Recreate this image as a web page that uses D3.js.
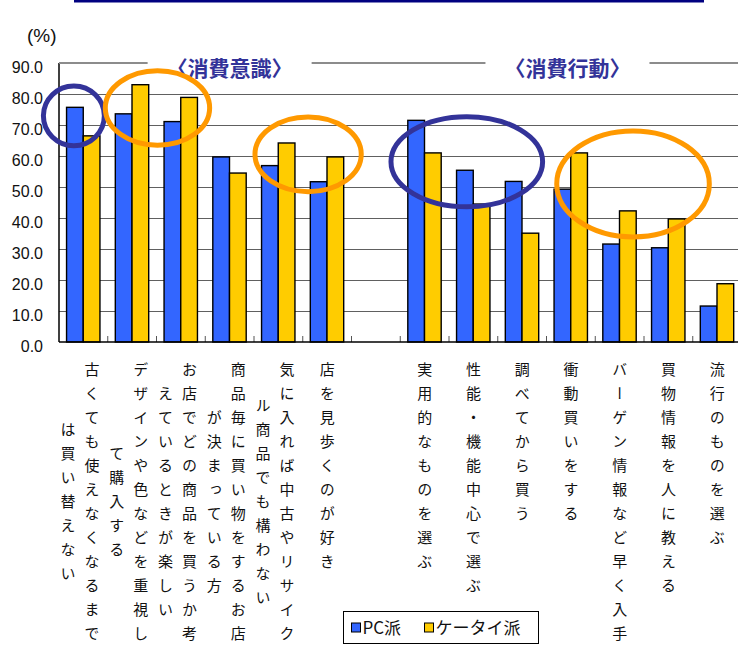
<!DOCTYPE html>
<html>
<head>
<meta charset="utf-8">
<script src="https://cdn.jsdelivr.net/npm/d3@7"></script>
<style>
    body { margin: 0; background: #fff; }
    svg { display: block; }
    text { font-family: "Noto Sans CJK JP", sans-serif; }
    .num { font-family: "Liberation Sans", Arial, sans-serif; }
</style>
</head>
<body>
<svg id="chart" width="738" height="652"></svg>
<script>
    "use strict";

    // category labels, already broken into the columns of the vertical text
    var categories = [
        ["古くても使えなくなるまで", "は買い替えない"],
        ["デザインや色などを重視し", "て購入する"],
        ["お店でどの商品を買うか考", "えているときが楽しい"],
        ["商品毎に買い物をするお店", "が決まっている方"],
        ["気に入れば中古やリサイク", "ル商品でも構わない"],
        ["店を見歩くのが好き"],
        [],
        ["実用的なものを選ぶ"],
        ["性能・機能中心で選ぶ"],
        ["調べてから買う"],
        ["衝動買いをする"],
        ["バーゲン情報など早く入手"],
        ["買物情報を人に教える"],
        ["流行のものを選ぶ"]
    ];
    var pcValues    = [75.7, 73.6, 71.1, 59.7, 56.9, 51.7, null, 71.5, 55.4, 51.8, 49.3, 31.6, 30.4, 11.6];
    var ketaiValues = [66.5, 83.0, 78.9, 54.5, 64.2, 59.7, null, 61.0, 44.5, 35.1, 61.0, 42.3, 39.7, 18.8];
    var seriesNames = ["PC派", "ケータイ派"];
    var yTicks = [0, 10, 20, 30, 40, 50, 60, 70, 80, 90];
    var sectionNames = ["〈消費意識〉", "〈消費行動〉"];
    // hand-drawn rings, in category slots / percent
    var highlights = [
        {x0: -0.32, x1: 0.93, v0: 63.3, v1: 82.6, kind: "pc"},
        {x0: 0.95, x1: 3.09, v0: 63.5, v1: 87.5, kind: "ketai"},
        {x0: 4.02, x1: 6.2, v0: 48.5, v1: 72.6, kind: "ketai"},
        {x0: 6.81, x1: 9.92, v0: 43.6, v1: 72.7, kind: "pc"},
        {x0: 10.21, x1: 13.34, v0: 33.9, v1: 68.1, kind: "ketai"}
    ];

    function drawChart() {
        var COLORS = {pc: "#3366ff", ketai: "#ffcc00"},
            RING = {pc: "#333399", ketai: "#ff9900"};

        var svg = d3.select("#chart");
        var left = 59, right = 741.5, plotTop = 63, bottom = 342;

        var slot = d3.scaleLinear().domain([0, categories.length]).range([left, right]);
        var x = d3.scaleBand().domain(d3.range(categories.length)).range([left, right]);
        var bw = x.bandwidth();
        var inner = d3.scaleBand().domain(["pc", "ketai"]).range([bw * 0.155, bw * 0.84]);
        var y = d3.scaleLinear().domain([0, 90]).range([bottom, plotTop]);

        // navy rule on top
        svg.append("rect").attr("x", 74).attr("y", 0).attr("width", 630).attr("height", 2.5)
            .attr("fill", "#000080");

        // gridlines (the 90 line is drawn later, broken by the titles)
        svg.append("g").selectAll("line").data(yTicks.filter(function (d) { return d > 0 && d < 90; }))
            .enter().append("line")
            .attr("x1", left).attr("x2", 738)
            .attr("y1", function (d) { return Math.round(y(d)) + 0.5; })
            .attr("y2", function (d) { return Math.round(y(d)) + 0.5; })
            .attr("stroke", "#606060").attr("stroke-width", 1);

        // bars
        var rows = categories.map(function (c, i) {
            return {i: i, pc: pcValues[i], ketai: ketaiValues[i]};
        }).filter(function (r) { return r.pc !== null; });

        var groups = svg.append("g").selectAll("g").data(rows).enter().append("g")
            .attr("transform", function (r) { return "translate(" + x(r.i) + ",0)"; });
        groups.selectAll("rect").data(function (r) {
            return [{k: "pc", v: r.pc}, {k: "ketai", v: r.ketai}];
        }).enter().append("rect")
            .attr("x", function (d) { return inner(d.k); })
            .attr("y", function (d) { return y(d.v); })
            .attr("width", inner.bandwidth())
            .attr("height", function (d) { return y(0) - y(d.v); })
            .attr("fill", function (d) { return COLORS[d.k]; })
            .attr("stroke", "#000").attr("stroke-width", 1.4);

        // axes
        var yAxis = d3.axisLeft(y).tickValues(yTicks).tickFormat(d3.format(".1f")).tickSize(0).tickPadding(16);
        var gy = svg.append("g").attr("transform", "translate(" + left + ",0)").call(yAxis);
        gy.select(".domain").remove();
        gy.selectAll("text").attr("class", "num").attr("font-size", 16).attr("fill", "#111").attr("dy", "0.62em");
        svg.append("line").attr("x1", left).attr("x2", left).attr("y1", plotTop).attr("y2", bottom)
            .attr("stroke", "#000").attr("stroke-width", 1.5);

        svg.append("g").selectAll("line").data(d3.range(1, categories.length)).enter().append("line")
            .attr("x1", function (d) { return slot(d); }).attr("x2", function (d) { return slot(d); })
            .attr("y1", bottom).attr("y2", bottom - 6)
            .attr("stroke", "#555").attr("stroke-width", 1);
        svg.append("line").attr("x1", left).attr("x2", 738).attr("y1", bottom).attr("y2", bottom)
            .attr("stroke", "#000").attr("stroke-width", 1.5);

        svg.append("text").attr("class", "num").attr("x", 27).attr("y", 42)
            .attr("font-size", 19).attr("fill", "#111").text("(%)");

        // section titles and the broken 90 line
        var titleAt = [3.5, 10.43], gaps = [];
        sectionNames.forEach(function (name, i) {
            var t = svg.append("text")
                .attr("x", slot(titleAt[i])).attr("y", y(90) + 13)
                .attr("text-anchor", "middle").attr("font-size", 21).attr("font-weight", "bold")
                .attr("fill", "#333399").text(name);
            var w = t.node().getComputedTextLength();
            gaps.push([slot(titleAt[i]) - w / 2 - 19, slot(titleAt[i]) + w / 2 + 19]);
        });
        var segs = [[left, gaps[0][0]], [gaps[0][1], gaps[1][0]], [gaps[1][1], 738]];
        svg.append("g").selectAll("line").data(segs).enter().append("line")
            .attr("x1", function (s) { return s[0]; }).attr("x2", function (s) { return s[1]; })
            .attr("y1", y(90)).attr("y2", y(90))
            .attr("stroke", "#8c8c8c").attr("stroke-width", 2);

        // rings
        svg.append("g").selectAll("ellipse").data(highlights).enter().append("ellipse")
            .attr("cx", function (h) { return (slot(h.x0) + slot(h.x1)) / 2; })
            .attr("cy", function (h) { return (y(h.v0) + y(h.v1)) / 2; })
            .attr("rx", function (h) { return (slot(h.x1) - slot(h.x0)) / 2; })
            .attr("ry", function (h) { return (y(h.v0) - y(h.v1)) / 2; })
            .attr("fill", "none").attr("stroke", function (h) { return RING[h.kind]; })
            .attr("stroke-width", 5);

        // vertical category labels
        var pitch = 24, labelTop = 362;
        categories.forEach(function (lines, i) {
            if (!lines.length) { return; }
            var cx = x(i) + bw / 2, n1 = lines[0].length;
            lines.forEach(function (line, j) {
                var colX = lines.length > 1 ? cx + 8.5 - 24 * j : cx;
                svg.append("text")
                    .attr("x", colX)
                    .attr("y", labelTop + (n1 - line.length) * pitch / 2)
                    .attr("font-size", 15).attr("fill", "#111")
                    .style("writing-mode", "vertical-rl")
                    .style("letter-spacing", (pitch - 15) + "px")
                    .text(line);
            });
        });

        // legend
        var lg = svg.append("g").attr("transform", "translate(343.5,611.5)");
        lg.append("rect").attr("width", 195).attr("height", 32).attr("fill", "#fff")
            .attr("stroke", "#000").attr("stroke-width", 1);
        var lx = [8, 81];
        ["pc", "ketai"].forEach(function (k, i) {
            lg.append("rect").attr("x", lx[i]).attr("y", 11.5).attr("width", 9).attr("height", 9)
                .attr("fill", COLORS[k]).attr("stroke", "#000").attr("stroke-width", 1);
            lg.append("text").attr("x", lx[i] + 11).attr("y", 22.5).attr("font-size", 17)
                .attr("fill", "#111").text(seriesNames[i]);
        });
    }

    drawChart();
</script>
</body>
</html>
